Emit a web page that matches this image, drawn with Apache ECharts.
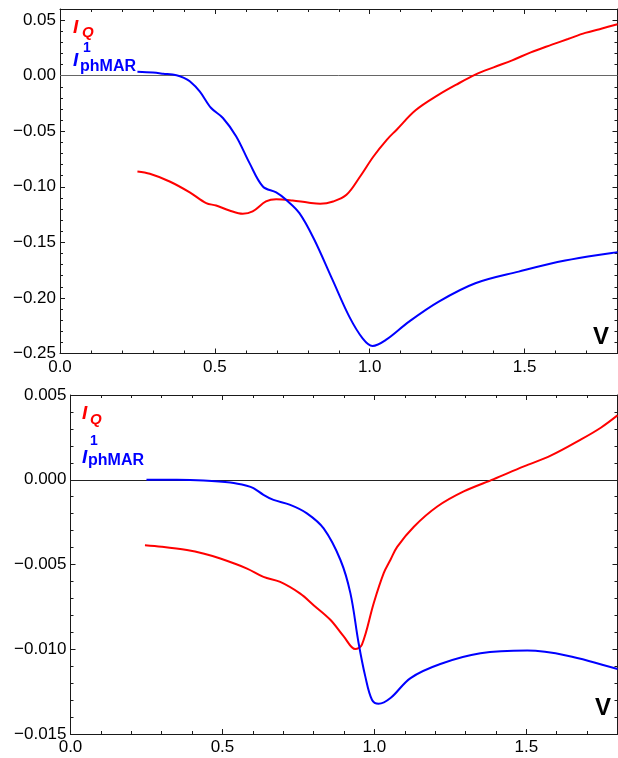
<!DOCTYPE html>
<html>
<head>
<meta charset="utf-8">
<script src="https://cdn.jsdelivr.net/npm/echarts@6/dist/echarts.min.js"></script>
<style>html,body{margin:0;padding:0;background:#fff;}#c{width:618px;height:758px;}</style>
</head>
<body>
<div id="c"></div>
<script>
// ---- data ----
const topQ = [[0.25,-0.0862],[0.29,-0.0883],[0.354,-0.0952],[0.419,-0.105],[0.472,-0.1147],[0.504,-0.1168],[0.547,-0.1213],[0.59,-0.1243],[0.622,-0.1222],[0.665,-0.1132],[0.698,-0.1111],[0.751,-0.1123],[0.80,-0.1142],[0.84,-0.1153],[0.882,-0.1132],[0.925,-0.1072],[0.969,-0.0907],[1.012,-0.0727],[1.055,-0.0577],[1.087,-0.0486],[1.148,-0.0312],[1.223,-0.0171],[1.28,-0.008],[1.341,0.0009],[1.40,0.0075],[1.46,0.0138],[1.52,0.021],[1.588,0.0279],[1.64,0.033],[1.696,0.0385],[1.75,0.0425],[1.8,0.0462]];
const topPh = [[0.25,0.0035],[0.30,0.0028],[0.333,0.0018],[0.376,0.0003],[0.40,-0.002],[0.419,-0.0051],[0.451,-0.0141],[0.488,-0.0291],[0.526,-0.0381],[0.569,-0.0547],[0.612,-0.0787],[0.655,-0.0997],[0.698,-0.1051],[0.73,-0.1117],[0.773,-0.1237],[0.82,-0.147],[0.88,-0.1838],[0.934,-0.2168],[0.977,-0.2363],[1.009,-0.2432],[1.052,-0.2378],[1.127,-0.2213],[1.223,-0.2033],[1.341,-0.1868],[1.481,-0.1763],[1.631,-0.1664],[1.8,-0.1588]];
const botQ = [[0.245,-0.00386],[0.3,-0.00395],[0.383,-0.00415],[0.44,-0.00437],[0.493,-0.00465],[0.581,-0.00524],[0.635,-0.00573],[0.69,-0.00603],[0.756,-0.00672],[0.80,-0.0074],[0.855,-0.00826],[0.899,-0.00924],[0.937,-0.00999],[0.959,-0.00973],[0.998,-0.00727],[1.031,-0.0055],[1.053,-0.00472],[1.075,-0.00396],[1.13,-0.00277],[1.207,-0.00158],[1.294,-0.00069],[1.393,0.00004],[1.492,0.00079],[1.58,0.00142],[1.679,0.00237],[1.745,0.00307],[1.8,0.0038]];
const botPh = [[0.25,0.0],[0.35,0.0],[0.438,-0.00004],[0.526,-0.00016],[0.58,-0.00035],[0.602,-0.00049],[0.635,-0.00089],[0.668,-0.00119],[0.723,-0.00148],[0.778,-0.00198],[0.833,-0.00287],[0.888,-0.00472],[0.921,-0.00669],[0.948,-0.00963],[0.970,-0.0116],[0.992,-0.01298],[1.014,-0.01322],[1.053,-0.01288],[1.119,-0.0117],[1.217,-0.01087],[1.349,-0.01024],[1.503,-0.01008],[1.635,-0.01038],[1.8,-0.01117]];

const xTicks = [0, 0.5, 1.0, 1.5];
const topYTicks = [-0.25, -0.20, -0.15, -0.10, -0.05, 0.00, 0.05];
const botYTicks = [-0.015, -0.010, -0.005, 0.000, 0.005];

// ---- layout ----
const FR = '#1a1a1a';
const FONT = '"Liberation Sans", Arial, sans-serif';
const fmt = (d) => (v) => (v < 0 ? '\u2212' : '') + Math.abs(v).toFixed(d);

function xAxes(gi) {
  const base = {type:'value', gridIndex:gi, min:0, max:1.8, offset:0, splitLine:{show:false}};
  return [
    Object.assign({}, base, {position:'bottom',
      axisLine:{show:true, onZero:false, lineStyle:{color:FR,width:1}},
      axisTick:{show:true, inside:true, length:5, customValues:xTicks, lineStyle:{color:FR}},
      axisLabel:{show:true, customValues:xTicks, formatter:fmt(1), color:'#000', fontSize:17, fontFamily:FONT, margin:5}}),
    Object.assign({}, base, {position:'bottom', interval:0.1,
      axisLine:{show:false, onZero:false}, axisTick:{show:true, inside:true, length:3, lineStyle:{color:FR}}, axisLabel:{show:false}}),
    Object.assign({}, base, {position:'top',
      axisLine:{show:true, onZero:false, lineStyle:{color:FR,width:1}},
      axisTick:{show:true, inside:true, length:5, customValues:xTicks, lineStyle:{color:FR}}, axisLabel:{show:false}}),
    Object.assign({}, base, {position:'top', interval:0.1,
      axisLine:{show:false, onZero:false}, axisTick:{show:true, inside:true, length:3, lineStyle:{color:FR}}, axisLabel:{show:false}})
  ];
}
function yAxes(gi, mn, mx, ticks, minor, dec) {
  const base = {type:'value', gridIndex:gi, min:mn, max:mx, offset:0, splitLine:{show:false}};
  return [
    Object.assign({}, base, {position:'left',
      axisLine:{show:true, onZero:false, lineStyle:{color:FR,width:1}},
      axisTick:{show:true, inside:true, length:5, customValues:ticks, lineStyle:{color:FR}},
      axisLabel:{show:true, customValues:ticks, formatter:fmt(dec), color:'#000', fontSize:17, fontFamily:FONT, margin:4}}),
    Object.assign({}, base, {position:'left', interval:minor,
      axisLine:{show:false, onZero:false}, axisTick:{show:true, inside:true, length:3, lineStyle:{color:FR}}, axisLabel:{show:false}}),
    Object.assign({}, base, {position:'right',
      axisLine:{show:true, onZero:false, lineStyle:{color:FR,width:1}},
      axisTick:{show:true, inside:true, length:5, customValues:ticks, lineStyle:{color:FR}}, axisLabel:{show:false}}),
    Object.assign({}, base, {position:'right', interval:minor,
      axisLine:{show:false, onZero:false}, axisTick:{show:true, inside:true, length:3, lineStyle:{color:FR}}, axisLabel:{show:false}})
  ];
}

const zeroLine = (c) => ({silent:true, symbol:'none', label:{show:false}, lineStyle:{type:'solid', color:c, width:1}, data:[{yAxis:0}]});
const line = (data, color, xi, yi, extra) => Object.assign({type:'line', data:data, xAxisIndex:xi, yAxisIndex:yi,
  showSymbol:false, smooth:0.35, lineStyle:{color:color, width:2}, itemStyle:{color:color}, animation:false, z:5}, extra||{});

const txt = (text, x, y, color, font) => ({type:'text', x:x, y:y, silent:true, z:10,
  style:{text:text, fill:color, font:font, align:'left', verticalAlign:'middle'}});

const RED = '#ff0000', BLUE = '#0000ff';
const fI = 'italic bold 19px ' + FONT;
const fQ = 'italic bold 15px ' + FONT;
const f1 = 'bold 14px ' + FONT;
const fS = 'bold 16px ' + FONT;
const fV = 'bold 24px ' + FONT;

const option = {
  animation:false,
  backgroundColor:'#fff',
  grid:[
    {left:60, top:9, width:557.5, height:344.5},
    {left:70.5, top:395, width:547, height:339}
  ],
  xAxis: xAxes(0).concat(xAxes(1)),
  yAxis: yAxes(0, -0.25, 0.06, topYTicks, 0.01, 2).concat(yAxes(1, -0.015, 0.005, botYTicks, 0.001, 3)),
  series:[
    line(topQ, RED, 0, 0, {markLine: zeroLine('#666')}),
    line(topPh, BLUE, 0, 0),
    line(botQ, RED, 4, 4, {markLine: zeroLine('#222')}),
    line(botPh, BLUE, 4, 4)
  ],
  graphic:[
    txt('I', 73, 28, RED, fI),
    txt('Q', 82, 33, RED, fQ),
    txt('I', 73, 61, BLUE, fI),
    txt('1', 83, 48, BLUE, f1),
    txt('phMAR', 80, 67, BLUE, fS),
    txt('V', 593, 337, '#000', fV),
    txt('I', 82, 414, RED, fI),
    txt('Q', 90, 420, RED, fQ),
    txt('I', 82, 458, BLUE, fI),
    txt('1', 90, 441, BLUE, f1),
    txt('phMAR', 88, 461, BLUE, fS),
    txt('V', 595, 708, '#000', fV)
  ]
};
const chart = echarts.init(document.getElementById('c'), null, {renderer:'canvas'});
chart.setOption(option);
</script>
</body>
</html>
